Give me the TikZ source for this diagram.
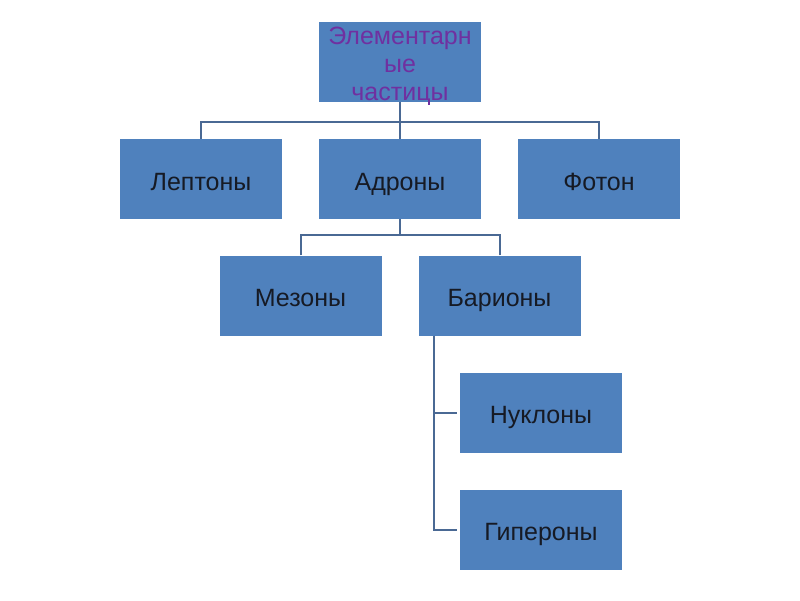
\documentclass[tikz,border=0pt]{standalone}
\usepackage{fontspec}
\setmainfont{Liberation Sans}
\usetikzlibrary{calc}
\definecolor{boxblue}{HTML}{4F81BD}
\definecolor{linecol}{HTML}{4A6994}
\definecolor{purp}{HTML}{7030A0}
\definecolor{txt}{HTML}{161A24}
\tikzset{
  boxbase/.style={rectangle, fill=boxblue, draw=none, minimum width=162pt, minimum height=80pt,
    inner sep=0pt, font=\fontsize{25}{28}\selectfont, text=txt, align=center},
  box/.style={boxbase, text height=22pt, text depth=0pt},
  conn/.style={draw=linecol, line width=2pt}
}
\begin{document}
\begin{tikzpicture}[x=1pt,y=-1pt]
\useasboundingbox (0,0) rectangle (800,600);
\fill[white] (0,0) rectangle (800,600);
\node[boxbase, text=purp] (top) at (400,62) {\rule{0pt}{21.5pt}Элементарн\\ые\\\raisebox{0pt}[\height][0pt]{частицы}};
\node[box] (lep) at (201,179) {Лептоны};
\node[box] (adr) at (400,179) {Адроны};
\node[box] (fot) at (599,179) {Фотон};
\node[box] (mez) at (300.5,295.5) {Мезоны};
\node[box] (bar) at (499.5,295.5) {Барионы};
\node[box] (nuk) at (541,412.5) {Нуклоны};
\node[box] (gip) at (541,529.5) {Гипероны};
\coordinate (j1) at (400,122);
\coordinate (j2) at (400,235);
\coordinate (b0) at ($(bar.south west)+(16,0)$);
\draw[conn] (top.south) -- (adr.north);
\draw[conn] (lep.north) |- (j1);
\draw[conn] (fot.north) |- (j1);
\draw[conn] (adr.south) -- (j2);
\draw[conn] (mez.north) |- (j2);
\draw[conn] (bar.north) |- (j2);
\draw[conn] (b0) |- ($(gip.west)+(-3,0)$);
\draw[conn] ($(b0)!(nuk.west)!(b0|-gip.west)$) -- ($(nuk.west)+(-3,0)$);
\end{tikzpicture}
\end{document}
